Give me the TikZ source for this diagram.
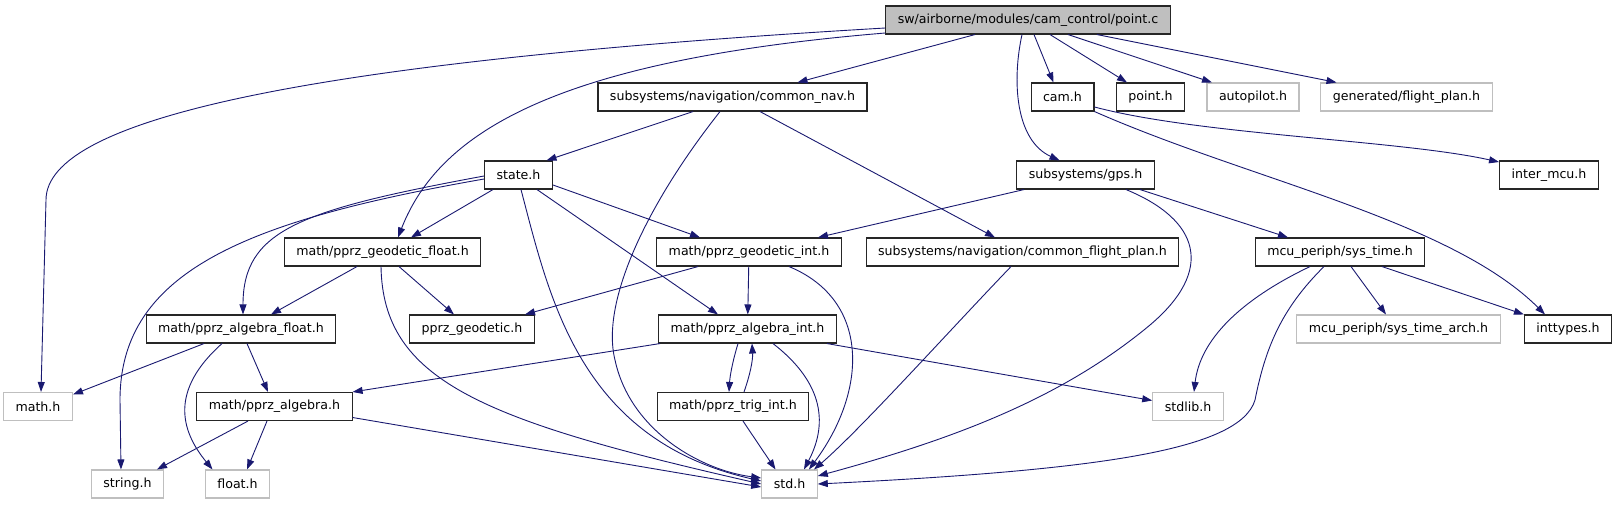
\documentclass[tikz,border=0pt]{standalone}
\usepackage{fontspec}
\setmainfont{DejaVu Sans}
\usetikzlibrary{arrows.meta}
\definecolor{edgeblue}{HTML}{191970}
\definecolor{boxgray}{HTML}{BFBFBF}
\begin{document}
\begin{tikzpicture}[x=1pt,y=-1pt,
  hdr/.style={draw=black!85,line width=1.1pt,minimum height=28pt,inner xsep=12pt,inner ysep=0pt,font=\fontsize{12.6}{14}\selectfont},
  sysinc/.style={hdr,draw=boxgray},
  rootfile/.style={hdr,fill=boxgray},
  dep/.style={edgeblue,line width=0.9pt,-{Triangle[length=10pt,width=7pt]}}]
  \useasboundingbox (0,0) rectangle (1616,504);
  \node[rootfile] (pointc) at (1028,20) {sw/airborne/modules/cam\_control/point.c};
  \node[hdr] (commonnav) at (732.5,97) {subsystems/navigation/common\_nav.h};
  \node[hdr] (cam) at (1062.5,97) {cam.h};
  \node[hdr] (pointh) at (1150.5,97) {point.h};
  \node[sysinc] (autopilot) at (1253,97) {autopilot.h};
  \node[sysinc] (flightplan) at (1406.5,97) {generated/flight\_plan.h};
  \node[hdr] (state) at (518.5,175) {state.h};
  \node[hdr] (gps) at (1085.5,175) {subsystems/gps.h};
  \node[hdr] (intermcu) at (1549,175) {inter\_mcu.h};
  \node[hdr] (geofloat) at (382.5,252) {math/pprz\_geodetic\_float.h};
  \node[hdr] (geoint) at (749,252) {math/pprz\_geodetic\_int.h};
  \node[hdr] (cfp) at (1022.5,252) {subsystems/navigation/common\_flight\_plan.h};
  \node[hdr] (systime) at (1340,252) {mcu\_periph/sys\_time.h};
  \node[hdr] (algfloat) at (241,329) {math/pprz\_algebra\_float.h};
  \node[hdr] (geodetic) at (472,329) {pprz\_geodetic.h};
  \node[hdr] (algint) at (747.5,329) {math/pprz\_algebra\_int.h};
  \node[sysinc] (systimearch) at (1398.5,329) {mcu\_periph/sys\_time\_arch.h};
  \node[hdr] (inttypes) at (1568,329) {inttypes.h};
  \node[sysinc] (mathh) at (38,406.5) {math.h};
  \node[hdr] (algebra) at (274.5,406.5) {math/pprz\_algebra.h};
  \node[hdr] (trigint) at (733,406.5) {math/pprz\_trig\_int.h};
  \node[sysinc] (stdlib) at (1188,406.5) {stdlib.h};
  \node[sysinc] (stringh) at (127.5,484) {string.h};
  \node[sysinc] (floath) at (237.5,484) {float.h};
  \node[sysinc] (std) at (789.5,484) {std.h};

  \draw[dep] ([yshift=-8]pointc.west) .. controls (300,62) and (46,120) .. (46,200) -- ([xshift=3]mathh.north);
  \draw[dep] ([yshift=-13]pointc.west) .. controls (560,60) and (440,130) .. ([xshift=15.5]geofloat.north);
  \draw[dep] ([xshift=-53]pointc.south) -- ([xshift=65]commonnav.north);
  \draw[dep] ([xshift=-6]pointc.south) .. controls (1012,80) and (1015,140) .. ([xshift=-26]gps.north);
  \draw[dep] ([xshift=6]pointc.south) -- ([xshift=-9]cam.north);
  \draw[dep] ([xshift=22]pointc.south) -- ([xshift=-23.5]pointh.north);
  \draw[dep] ([xshift=40]pointc.south) -- ([xshift=-41]autopilot.north);
  \draw[dep] ([xshift=69]pointc.south) -- ([xshift=-70]flightplan.north);

  \draw[dep] ([xshift=-39.5]commonnav.south) -- ([xshift=28]state.north);
  \draw[dep] ([xshift=-12.5]commonnav.south) .. controls (650,200) and (600,300) .. (615,360) .. controls (630,430) and (700,470) .. ([yshift=6]std.west);
  \draw[dep] ([xshift=27.5]commonnav.south) -- ([xshift=-27.5]cfp.north);

  \draw[dep] ([yshift=-4]state.west) .. controls (250,220) and (120,270) .. (120,400) -- ([xshift=-6.5]stringh.north);
  \draw[dep] ([yshift=-1]state.west) .. controls (300,210) and (243,230) .. ([xshift=2]algfloat.north);
  \draw[dep] ([xshift=-25.5]state.south) -- ([xshift=28.5]geofloat.north);
  \draw[dep] ([yshift=-10]state.east) -- ([xshift=-49]geoint.north);
  \draw[dep] ([xshift=18.5]state.south) -- ([xshift=-29.5]algint.north);
  \draw[dep] ([xshift=2.5]state.south) .. controls (550,300) and (580,440) .. ([yshift=3]std.west);

  \draw[dep] ([xshift=-25.5]geofloat.south) -- ([xshift=30]algfloat.north);
  \draw[dep] ([xshift=16.5]geofloat.south) -- ([xshift=-18]geodetic.north);
  \draw[dep] ([xshift=-1.5]geofloat.south) .. controls (383,380) and (480,420) .. (std.west);

  \draw[dep] ([xshift=-51]geoint.south) -- ([xshift=53]geodetic.north);
  \draw[dep] (geoint) -- (algint);
  \draw[dep] ([xshift=40]geoint.south) .. controls (870,300) and (868,390) .. ([xshift=19.5]std.north);

  \draw[dep] ([xshift=-9.5]algint.south) .. controls (733,360) and (730,375) .. ([xshift=-4]trigint.north);
  \draw[dep] ([xshift=11]trigint.north) .. controls (750,375) and (753,360) .. ([xshift=4.5]algint.south);
  \draw[dep] ([xshift=25.5]algint.south) .. controls (820,380) and (830,420) .. ([xshift=14.5]std.north);
  \draw[dep] ([xshift=-87.5]algint.south) -- (algebra.north east);
  \draw[dep] ([xshift=79.5]algint.south) -- ([yshift=6]stdlib.west);
  \draw[dep] ([xshift=10]trigint.south) -- ([xshift=-14]std.north);

  \draw[dep] ([xshift=-11.5]cfp.south) .. controls (950,330) and (860,430) .. ([xshift=24.5]std.north);

  \draw[dep] ([xshift=-61.5]gps.south) -- ([xshift=69]geoint.north);
  \draw[dep] ([xshift=54.5]gps.south) -- ([xshift=-52]systime.north);
  \draw[dep] ([xshift=40.5]gps.south) .. controls (1200,220) and (1215,270) .. (1150,325) .. controls (1060,400) and (950,440) .. ([yshift=8]std.east);

  \draw[dep] ([xshift=-16]systime.south) .. controls (1280,310) and (1265,350) .. (1255,400) .. controls (1240,450) and (1100,470) .. (std.east);
  \draw[dep] ([xshift=-30]systime.south) .. controls (1240,300) and (1200,340) .. ([xshift=6]stdlib.north);
  \draw[dep] ([xshift=11]systime.south) -- ([xshift=-12.5]systimearch.north);
  \draw[dep] ([xshift=42]systime.south) -- (inttypes.north west);

  \draw[dep] ([yshift=-10]cam.east) .. controls (1200,135) and (1400,140) .. ([yshift=13]intermcu.west);
  \draw[dep] (cam.south east) .. controls (1250,180) and (1450,220) .. ([xshift=-23]inttypes.north);

  \draw[dep] ([xshift=-37]algfloat.south) -- ([yshift=12]mathh.east);
  \draw[dep] ([xshift=-19]algfloat.south) .. controls (170,390) and (180,430) .. ([xshift=-25]floath.north);
  \draw[dep] ([xshift=6]algfloat.south) -- ([xshift=-6.5]algebra.north);

  \draw[dep] ([xshift=-26.5]algebra.south) -- ([xshift=29.5]stringh.north);
  \draw[dep] ([xshift=-7.5]algebra.south) -- ([xshift=9.5]floath.north);
  \draw[dep] ([yshift=-11]algebra.east) -- ([yshift=-3]std.west);
\end{tikzpicture}
\end{document}
